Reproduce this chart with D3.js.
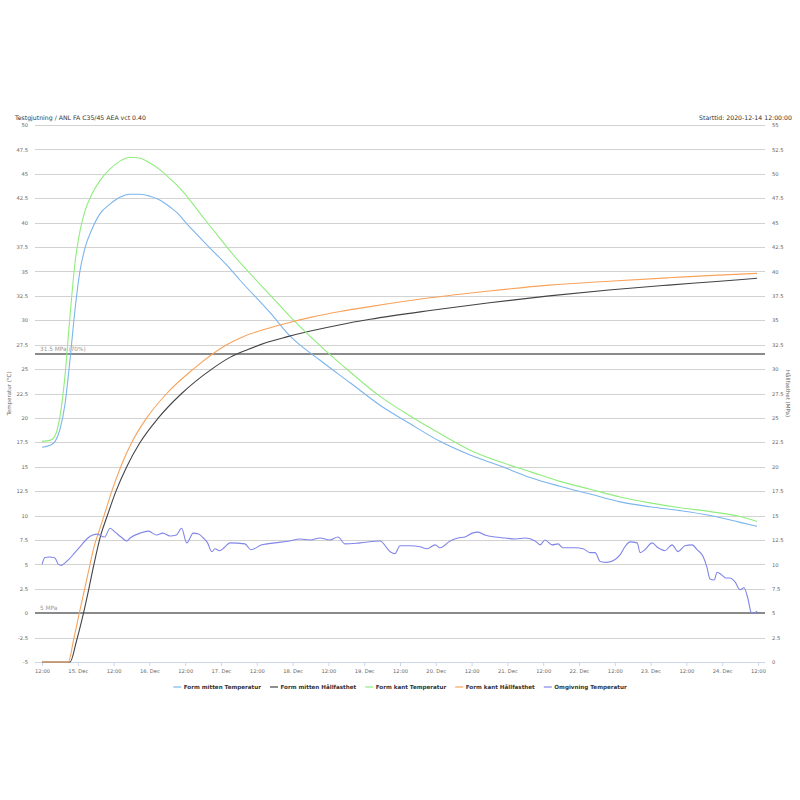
<!DOCTYPE html>
<html><head><meta charset="utf-8">
<script src="https://cdn.jsdelivr.net/npm/d3@7"></script>
<style>body{margin:0;background:#fff} svg{font-family:"DejaVu Sans",Verdana,sans-serif}</style>
</head><body><svg id="c" width="800" height="800"></svg>
<script>
// ---------- DATA (hours after 2020-12-14 12:00) ----------
const titleText = "Testgjutning / ANL FA C35/45 AEA vct 0.40";
const startText = "Starttid: 2020-12-14 12:00:00";
const leftAxisTitle = "Temperatur (°C)";
const rightAxisTitle = "Hållfasthet (MPa)";
const seriesNames = ["Form mitten Temperatur","Form mitten Hållfasthet","Form kant Temperatur","Form kant Hållfasthet","Omgivning Temperatur"];
const seriesColors = ["#7cb5ec","#434348","#90ed7d","#f7a35c","#8085e9"];

const mittenTemp = [[0,17.0],[2.7,17.2],[4.4,17.6],[6.0,18.8],[7.7,21.4],[9.4,26.0],[11.1,31.2],[12.7,35.0],[14.4,37.4],[16.7,39.3],[19.4,40.9],[22.8,41.9],[26.1,42.6],[29.5,42.9],[32.9,42.9],[36.2,42.7],[39.6,42.3],[42.9,41.6],[46.3,40.7],[47.9,40.1],[51.9,38.8],[56.3,37.4],[63,35.3],[66.4,34.1],[76.4,30.8],[83.1,28.4],[93.2,25.9],[103.3,23.6],[113.3,21.3],[123.4,19.4],[133.4,17.6],[143.5,16.2],[153.5,15.1],[163.6,13.9],[173.6,13.0],[183.7,12.2],[193.8,11.4],[203.8,10.9],[213.9,10.5],[224,10.0],[234,9.3],[239.7,8.9]];
const kantTemp = [[0,17.6],[2.7,17.7],[4.4,18.2],[6.0,20.1],[7.7,24.3],[9.4,30.5],[11.1,36.0],[12.7,39.1],[14.4,41.2],[16.7,42.9],[19.4,44.3],[22.8,45.5],[26.1,46.3],[29.5,46.7],[32.9,46.6],[36.2,46.1],[39.6,45.4],[42.9,44.5],[46.3,43.5],[49.6,42.3],[54.1,40.5],[58.6,38.8],[63,37.1],[66.4,35.9],[70,34.7],[76.4,32.6],[83.1,30.4],[93.2,27.4],[103.3,24.7],[113.3,22.2],[123.4,20.2],[133.4,18.4],[143.5,16.7],[153.5,15.5],[163.6,14.5],[173.6,13.5],[183.7,12.7],[193.8,11.9],[203.8,11.3],[213.9,10.8],[224,10.4],[234,9.9],[239.7,9.4]];
const mittenStrength = [[0,0],[9.4,0],[11.6,2.2],[13.9,5],[15.7,7.5],[17.4,10],[19.7,13],[21.9,15],[24.8,17.5],[28.4,20],[32.9,22.5],[39,25],[46.8,27.5],[56.9,30],[63,31.2],[69,32.0],[75,32.7],[82,33.3],[90,33.9],[100,34.55],[110,35.1],[130,36.0],[150,36.8],[170,37.5],[190,38.1],[210,38.6],[225,38.95],[239.7,39.3]];
const kantStrength = [[0,0],[8.8,0],[10.6,2.3],[12.5,5],[14.3,7.5],[16.1,10],[17.6,12],[18.9,13.2],[20.8,15],[23.4,17.5],[26.4,20],[30.1,22.5],[35.1,25],[41.8,27.5],[50.7,30],[61.9,32.5],[68,33.4],[75,34.1],[82,34.7],[90,35.3],[100,35.9],[110,36.4],[130,37.3],[150,38.0],[170,38.6],[190,39.0],[210,39.35],[225,39.6],[239.7,39.8]];
const ambientTemp = [[0,5.0],[1,5.7],[2.5,5.75],[4,5.7],[4.5,5.6],[5.5,5.0],[6.5,4.9],[7.5,5.1],[9,5.5],[11,6.2],[13,6.9],[15,7.6],[17,8.0],[18.5,8.1],[20,7.9],[21,7.8],[22.8,8.7],[24.5,8.3],[26.5,7.8],[28.4,7.4],[29.5,7.7],[32.9,8.2],[35.7,8.4],[38.4,8.0],[40.5,8.2],[42.9,7.9],[45,8.0],[46.8,8.7],[48.5,7.2],[50.7,8.2],[52.5,8.1],[54.1,7.7],[55.5,7.2],[56.9,6.3],[58,6.6],[59.5,6.4],[61,6.7],[63,7.2],[68,7.1],[70,6.5],[73.7,7.0],[78,7.2],[83.1,7.4],[86.5,7.6],[89.8,7.5],[93.2,7.7],[96.5,7.5],[99.2,7.8],[101.6,7.1],[106.6,7.2],[113.3,7.4],[116.7,6.3],[118.3,6.1],[120,6.9],[123.4,6.9],[126.7,6.8],[129.1,6.6],[131.8,7.0],[133.4,6.7],[136.8,7.4],[139.4,7.7],[141.8,7.8],[144.2,8.2],[146.2,8.3],[148.5,8.0],[151.9,7.8],[155.2,7.7],[158.6,7.6],[162,7.7],[165.3,7.4],[167,7.0],[168.6,7.5],[171,7.0],[173,7.1],[174.6,6.7],[178.7,6.7],[181.4,6.6],[183.7,6.2],[185.4,6.2],[187.1,5.3],[189.4,5.2],[192.1,5.5],[193.8,6.0],[195.4,6.8],[197.1,7.3],[199.5,7.2],[200.5,6.2],[202.1,6.5],[204.5,7.2],[206.5,6.7],[208.8,6.4],[211.2,7.0],[213.2,6.3],[215.5,6.9],[217.9,7.0],[219.6,6.5],[221.6,5.8],[222.9,4.7],[223.9,3.5],[225.3,3.4],[226.3,4.2],[227.9,3.9],[229.3,3.6],[230.6,3.6],[232.3,3.2],[234,2.4],[235.3,2.6],[236.7,1.4],[237.7,0.1],[238.7,0.0],[239.7,0.2]];
const seriesData = [mittenTemp, mittenStrength, kantTemp, kantStrength, ambientTemp];
const seriesAxis = ["left","right","left","right","left"];

const leftTicks = [-5,-2.5,0,2.5,5,7.5,10,12.5,15,17.5,20,22.5,25,27.5,30,32.5,35,37.5,40,42.5,45,47.5,50];
const rightTicks = [0,2.5,5,7.5,10,12.5,15,17.5,20,22.5,25,27.5,30,32.5,35,37.5,40,42.5,45,47.5,50,52.5,55];
const xTickHours = [0,12,24,36,48,60,72,84,96,108,120,132,144,156,168,180,192,204,216,228,240];
const xTickLabels = ["12:00","15. Dec","12:00","16. Dec","12:00","17. Dec","12:00","18. Dec","12:00","19. Dec","12:00","20. Dec","12:00","21. Dec","12:00","22. Dec","12:00","23. Dec","12:00","24. Dec","12:00"];
const plotLineValues = [31.5, 5];
const plotLineLabels = ["31.5 MPa (70%)", "5 MPa"];

// ---------- LAYOUT ----------
const svg = d3.select("#c");
const L = 35, R = 765, T = 125, B = 662;
const x = d3.scaleLinear().domain([-2.35, 242.35]).range([L, R]);
const yL = d3.scaleLinear().domain([-5, 50]).range([B, T]);
const yR = d3.scaleLinear().domain([0, 55]).range([B, T]);

// gridlines
svg.append("g").selectAll("line").data(leftTicks).join("line")
  .attr("x1", L).attr("x2", R)
  .attr("y1", d => Math.round(yL(d)) + 0.5).attr("y2", d => Math.round(yL(d)) + 0.5)
  .attr("stroke", d => d === -5 ? "#ccd6eb" : "#d2d2d2").attr("stroke-width", 1);

// left axis labels
const leftAxis = d3.axisLeft(yL).tickValues(leftTicks).tickSize(0).tickPadding(7).tickFormat(d => d);
const gl = svg.append("g").attr("transform", `translate(${L},0)`).call(leftAxis);
gl.select(".domain").remove();
gl.selectAll("text").attr("font-size", 5.2).attr("fill", "#666").attr("font-family", "DejaVu Sans");

const rightAxis = d3.axisRight(yR).tickValues(rightTicks).tickSize(0).tickPadding(7).tickFormat(d => d);
const gr = svg.append("g").attr("transform", `translate(${R},0)`).call(rightAxis);
gr.select(".domain").remove();
gr.selectAll("text").attr("font-size", 5.2).attr("fill", "#666").attr("font-family", "DejaVu Sans");

// x axis
const xAxis = d3.axisBottom(x).tickValues(xTickHours).tickSize(4).tickPadding(3).tickFormat((d, i) => xTickLabels[i]);
const gx = svg.append("g").attr("transform", `translate(0,${B})`).call(xAxis);
gx.select(".domain").remove();
gx.selectAll("line").attr("stroke", "#ccd6eb");
gx.selectAll("text").attr("font-size", 5.2).attr("fill", "#666").attr("font-family", "DejaVu Sans");

// axis titles
svg.append("text").attr("transform", `translate(11,${(T + B) / 2}) rotate(-90)`)
  .attr("text-anchor", "middle").attr("font-size", 5.5).attr("fill", "#666").text(leftAxisTitle);
svg.append("text").attr("transform", `translate(786,${(T + B) / 2}) rotate(90)`)
  .attr("text-anchor", "middle").attr("font-size", 5.5).attr("fill", "#666").text(rightAxisTitle);

// plot lines
plotLineValues.forEach((v, i) => {
  const yy = Math.round(yR(v));
  svg.append("line").attr("x1", L).attr("x2", R).attr("y1", yy).attr("y2", yy)
    .attr("stroke", "#8a8a8a").attr("stroke-width", 2);
  svg.append("text").attr("x", L + 5).attr("y", yy - 3).attr("font-size", 5.8)
    .attr("fill", "#999").text(plotLineLabels[i]);
});

// series
const lineGen = (scale) => d3.line().x(d => x(d[0])).y(d => scale(d[1])).curve(d3.curveMonotoneX);
seriesData.forEach((data, i) => {
  const scale = seriesAxis[i] === "left" ? yL : yR;
  svg.append("path").datum(data).attr("fill", "none")
    .attr("stroke", seriesColors[i]).attr("stroke-width", 1.1)
    .attr("stroke-linejoin", "round").attr("d", lineGen(scale));
});

// title texts
svg.append("text").attr("x", 15).attr("y", 120).attr("font-size", 6.2).attr("fill", "#333").text(titleText);
svg.append("text").attr("x", 792).attr("y", 120).attr("text-anchor", "end").attr("font-size", 6.2).attr("fill", "#333").text(startText);

// legend
const lg = svg.append("g");
let cx = 0;
seriesNames.forEach((name, i) => {
  const g = lg.append("g").attr("transform", `translate(${cx},0)`);
  g.append("line").attr("x1", 0).attr("x2", 8).attr("y1", 0).attr("y2", 0)
    .attr("stroke", seriesColors[i]).attr("stroke-width", 1.2);
  const t = g.append("text").attr("x", 10.5).attr("y", 2).attr("font-size", 5.6)
    .attr("font-weight", "bold").attr("fill", "#333").text(name);
  cx += 10.5 + t.node().getComputedTextLength() + 9;
});
const totalW = cx - 9;
lg.attr("transform", `translate(${400 - totalW / 2},687)`);
</script></body></html>
